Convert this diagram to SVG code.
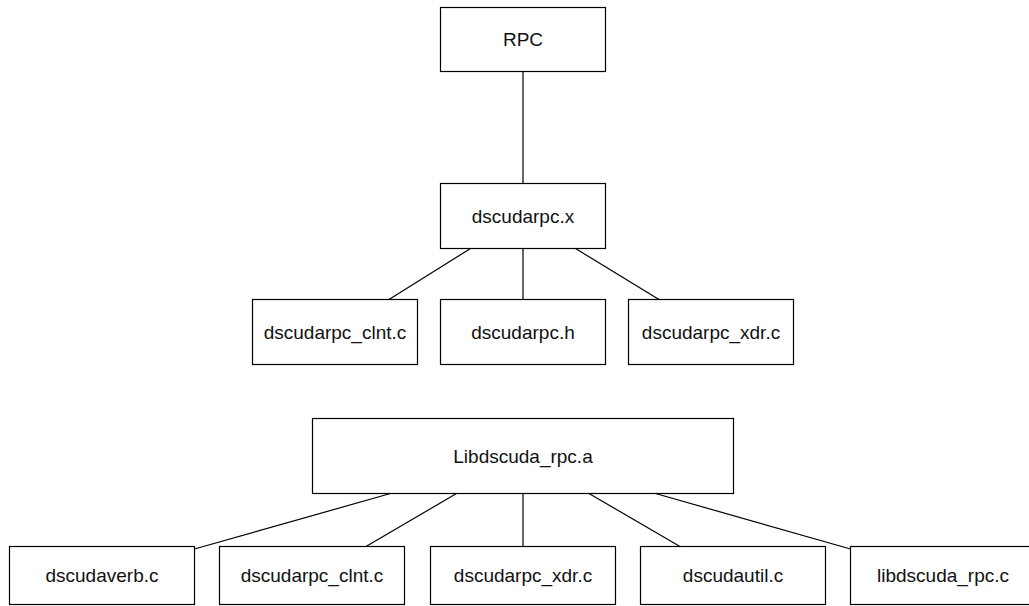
<svg xmlns="http://www.w3.org/2000/svg" width="1029" height="606" viewBox="0 0 1029 606">
  <style>
    .box { fill: #ffffff; stroke: #000000; stroke-width: 1.2; }
    .lbl { font-family: "Liberation Sans", Arial, sans-serif; font-size: 19px; fill: #111111; text-anchor: middle; }
    .edge { stroke: #000000; stroke-width: 1.2; fill: none; }
  </style>
  <rect width="1029" height="606" fill="#ffffff"/>

  <!-- connectors -->
  <g id="connectors">
    <line class="edge" x1="523" y1="71.5" x2="523" y2="183.5"/>
    <line class="edge" x1="470.5" y1="248.5" x2="389" y2="299.5"/>
    <line class="edge" x1="523" y1="248.5" x2="523" y2="299.5"/>
    <line class="edge" x1="575.5" y1="248.5" x2="659" y2="299.5"/>
    <line class="edge" x1="390.5" y1="493.5" x2="194.5" y2="549"/>
    <line class="edge" x1="456.5" y1="493.5" x2="366" y2="546.5"/>
    <line class="edge" x1="523" y1="493.5" x2="523" y2="546.5"/>
    <line class="edge" x1="589" y1="493.5" x2="680" y2="546.5"/>
    <line class="edge" x1="655.5" y1="493.5" x2="850.5" y2="549"/>
  </g>

  <!-- RPC tree -->
  <g id="rpc">
    <rect class="box" x="440.5" y="7.5" width="165" height="64"/>
    <text class="lbl" x="523" y="46">RPC</text>
  </g>
  <g id="dscudarpc_x">
    <rect class="box" x="440.5" y="183.5" width="165" height="65"/>
    <text class="lbl" x="523" y="223">dscudarpc.x</text>
  </g>
  <g id="dscudarpc_clnt_c_1">
    <rect class="box" x="252.5" y="299.5" width="165" height="65"/>
    <text class="lbl" x="335" y="339">dscudarpc_clnt.c</text>
  </g>
  <g id="dscudarpc_h">
    <rect class="box" x="440.5" y="299.5" width="165" height="65"/>
    <text class="lbl" x="523" y="339">dscudarpc.h</text>
  </g>
  <g id="dscudarpc_xdr_c_1">
    <rect class="box" x="628.5" y="299.5" width="165" height="65"/>
    <text class="lbl" x="711" y="339">dscudarpc_xdr.c</text>
  </g>

  <!-- library tree -->
  <g id="libdscuda_rpc_a">
    <rect class="box" x="312.5" y="418.5" width="421" height="75"/>
    <text class="lbl" x="523" y="463">Libdscuda_rpc.a</text>
  </g>
  <g id="dscudaverb_c">
    <rect class="box" x="9.5" y="546.5" width="185" height="58"/>
    <text class="lbl" x="102" y="582">dscudaverb.c</text>
  </g>
  <g id="dscudarpc_clnt_c_2">
    <rect class="box" x="219.5" y="546.5" width="185" height="58"/>
    <text class="lbl" x="312" y="582">dscudarpc_clnt.c</text>
  </g>
  <g id="dscudarpc_xdr_c_2">
    <rect class="box" x="430.5" y="546.5" width="185" height="58"/>
    <text class="lbl" x="523" y="582">dscudarpc_xdr.c</text>
  </g>
  <g id="dscudautil_c">
    <rect class="box" x="640.5" y="546.5" width="185" height="58"/>
    <text class="lbl" x="733" y="582">dscudautil.c</text>
  </g>
  <g id="libdscuda_rpc_c">
    <rect class="box" x="850.5" y="546.5" width="185" height="58"/>
    <text class="lbl" x="943" y="582">libdscuda_rpc.c</text>
  </g>
</svg>
